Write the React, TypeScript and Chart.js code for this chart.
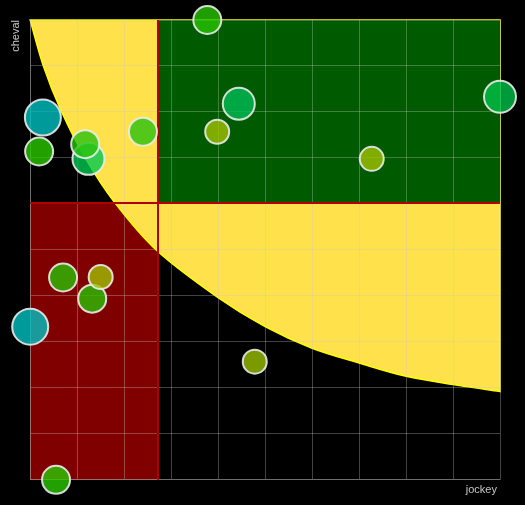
import React, { useEffect, useRef } from 'react';
import { Chart, registerables } from 'chart.js';

Chart.register(...registerables);

// ---- data ----
const xTitle = 'jockey ';
const yTitle = 'cheval';

const xMin = 0;
const xMax = 10;
const yMin = 0;
const yMax = 10;

// quadrant split values
const splitX = 2.72;
const splitY = 6.02;

// boundary of the yellow zone
const curveX = [0, 0.28, 0.66, 1.17, 1.79, 2.7, 4.0, 5.0, 6.0, 7.0, 8.0, 9.0, 10];
const curveY = [10, 9.0, 8.02, 7.0, 6.04, 4.98, 3.96, 3.33, 2.86, 2.54, 2.25, 2.07, 1.92];

// bubbles
const bubbleX = [3.77, 4.44, 3.98, 10.0, 7.27, 0.27, 0.19, 1.24, 1.17, 2.4, 0.7, 1.32, 1.5, 0.0, 4.78, 0.55];
const bubbleY = [10.0, 8.18, 7.57, 8.33, 6.98, 7.88, 7.14, 6.98, 7.3, 7.57, 4.4, 3.94, 4.41, 3.33, 2.57, 0.0];
const bubbleR = [14, 16, 12, 16, 12, 18, 14, 16, 14, 14, 14, 14, 12, 18, 12, 14];
const bubbleColors = [
  'rgba(40,196,0,0.8)',
  'rgba(0,188,86,0.8)',
  'rgba(160,192,0,0.8)',
  'rgba(0,192,72,0.8)',
  'rgba(160,194,0,0.8)',
  'rgba(0,192,192,0.8)',
  'rgba(42,200,0,0.8)',
  'rgba(0,200,80,0.8)',
  'rgba(40,194,14,0.8)',
  'rgba(40,194,14,0.8)',
  'rgba(40,192,0,0.8)',
  'rgba(40,192,0,0.8)',
  'rgba(160,192,0,0.8)',
  'rgba(0,192,192,0.8)',
  'rgba(153,192,0,0.8)',
  'rgba(42,200,0,0.8)',
];

const zonesPlugin = {
  id: 'zones',
  beforeDraw(chart: any) {
    const { ctx } = chart;
    const xs = chart.scales.x;
    const ys = chart.scales.y;
    const px = (v: number) => xs.getPixelForValue(v);
    const py = (v: number) => ys.getPixelForValue(v);
    ctx.save();
    // red zone
    ctx.fillStyle = '#800000';
    ctx.fillRect(px(xMin), py(splitY), px(splitX) - px(xMin), py(yMin) - py(splitY));
    // yellow zone
    const pts = curveX.map((v, i) => [px(v), py(curveY[i])]);
    ctx.beginPath();
    ctx.moveTo(pts[0][0], pts[0][1]);
    for (let i = 0; i < pts.length - 1; i++) {
      const p0 = pts[Math.max(0, i - 1)];
      const p1 = pts[i];
      const p2 = pts[i + 1];
      const p3 = pts[Math.min(pts.length - 1, i + 2)];
      const c1x = p1[0] + (p2[0] - p0[0]) / 6;
      const c1y = p1[1] + (p2[1] - p0[1]) / 6;
      const c2x = p2[0] - (p3[0] - p1[0]) / 6;
      const c2y = p2[1] - (p3[1] - p1[1]) / 6;
      ctx.bezierCurveTo(c1x, c1y, c2x, c2y, p2[0], p2[1]);
    }
    ctx.lineTo(px(xMax), py(yMax));
    ctx.closePath();
    ctx.fillStyle = '#FFE24B';
    ctx.fill();
    ctx.strokeStyle = '#FFFF00';
    ctx.lineWidth = 1.5;
    ctx.stroke();
    // green zone
    ctx.fillStyle = '#005A00';
    ctx.fillRect(px(splitX), py(yMax), px(xMax) - px(splitX), py(splitY) - py(yMax));
    ctx.restore();
  },
  beforeDatasetsDraw(chart: any) {
    const { ctx } = chart;
    const xs = chart.scales.x;
    const ys = chart.scales.y;
    ctx.save();
    ctx.strokeStyle = '#B00000';
    ctx.lineWidth = 2;
    ctx.beginPath();
    ctx.moveTo(xs.getPixelForValue(splitX), ys.getPixelForValue(yMax));
    ctx.lineTo(xs.getPixelForValue(splitX), ys.getPixelForValue(yMin));
    ctx.moveTo(xs.getPixelForValue(xMin), ys.getPixelForValue(splitY));
    ctx.lineTo(xs.getPixelForValue(xMax), ys.getPixelForValue(splitY));
    ctx.stroke();
    ctx.restore();
  },
};

export default function App() {
  const canvasRef = useRef<HTMLCanvasElement | null>(null);

  useEffect(() => {
    document.body.style.margin = '0';
    document.body.style.background = '#000';
    const canvas = canvasRef.current;
    if (!canvas) return;
    const gridColor = 'rgba(200,200,200,0.33)';
    const titleFont = { family: 'Liberation Sans, Arial, sans-serif', size: 11 };
    const chart = new Chart(canvas, {
      type: 'bubble',
      data: {
        datasets: [
          {
            data: bubbleX.map((x, i) => ({ x, y: bubbleY[i], r: bubbleR[i] })),
            backgroundColor: bubbleColors,
            borderColor: 'rgba(235,235,235,0.9)',
            borderWidth: 2,
            clip: false as any,
          },
        ],
      },
      options: {
        responsive: false,
        animation: false,
        events: [],
        layout: { padding: { left: 8, top: 20, right: 25, bottom: 3 } },
        plugins: {
          legend: { display: false },
          tooltip: { enabled: false },
        },
        scales: {
          x: {
            type: 'linear',
            min: xMin,
            max: xMax,
            ticks: { display: false, stepSize: 1 },
            grid: { color: gridColor, drawTicks: false },
            border: { color: gridColor },
            title: {
              display: true,
              text: xTitle,
              align: 'end',
              color: '#c8c8c8',
              font: titleFont,
              padding: { top: 4, bottom: 5 },
            },
          },
          y: {
            type: 'linear',
            min: yMin,
            max: yMax,
            ticks: { display: false, stepSize: 1 },
            grid: { color: gridColor, drawTicks: false },
            border: { color: gridColor },
            title: {
              display: true,
              text: yTitle,
              align: 'end',
              color: '#c8c8c8',
              font: titleFont,
              padding: { top: 1, bottom: 8 },
            },
          },
        },
      },
      plugins: [zonesPlugin],
    } as any);
    return () => chart.destroy();
  }, []);

  return (
    <div style={{ width: 525, height: 505, background: '#000' }}>
      <canvas ref={canvasRef} width={525} height={505} style={{ display: 'block' }} />
    </div>
  );
}
